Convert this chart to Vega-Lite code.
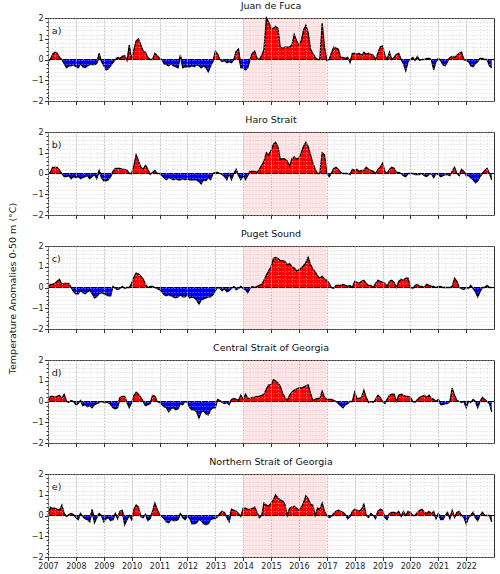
{
  "$schema": "https://vega.github.io/schema/vega-lite/v6.json",
  "background": "white",
  "padding": {"left": 6, "top": 0, "right": 6, "bottom": 4},
  "bounds": "flush",
  "spacing": 31,
  "config": {
    "font": "DejaVu Sans",
    "view": {"stroke": "#333333", "strokeWidth": 1},
    "title": {"fontSize": 9.5, "fontWeight": "normal", "color": "#111111", "offset": 4, "anchor": "middle"},
    "axis": {"labelFontSize": 8, "labelColor": "#222222", "tickColor": "#333333", "titleFontSize": 9.5, "titleFontWeight": "normal", "titleColor": "#222222", "domain": false}
  },
  "datasets": {
    "anom": [
      {"t":"2007-01","a":-0.1,"b":0,"c":0,"d":0,"e":0},
      {"t":"2007-02","a":0,"b":0.05,"c":0.15,"d":0.25,"e":0.4},
      {"t":"2007-03","a":0.25,"b":0.3,"c":0.15,"d":0.25,"e":0.35},
      {"t":"2007-04","a":0.35,"b":0.3,"c":0.2,"d":0.2,"e":0.35},
      {"t":"2007-05","a":0.3,"b":0.3,"c":0.3,"d":0.25,"e":0.3},
      {"t":"2007-06","a":0.1,"b":0.15,"c":0.4,"d":0.3,"e":0.25},
      {"t":"2007-07","a":0,"b":0,"c":0.15,"d":0.15,"e":0.5},
      {"t":"2007-08","a":-0.2,"b":-0.15,"c":0.2,"d":0.35,"e":0.1},
      {"t":"2007-09","a":-0.4,"b":-0.15,"c":0.2,"d":0,"e":-0.05},
      {"t":"2007-10","a":-0.3,"b":-0.1,"c":0.2,"d":-0.05,"e":0.05},
      {"t":"2007-11","a":-0.3,"b":-0.25,"c":0,"d":0.05,"e":0.1},
      {"t":"2007-12","a":-0.25,"b":-0.15,"c":-0.2,"d":0,"e":0.05},
      {"t":"2008-01","a":-0.35,"b":-0.2,"c":-0.3,"d":-0.15,"e":-0.1},
      {"t":"2008-02","a":-0.4,"b":-0.15,"c":-0.3,"d":-0.1,"e":-0.2},
      {"t":"2008-03","a":-0.2,"b":-0.25,"c":-0.15,"d":0.05,"e":0.1},
      {"t":"2008-04","a":-0.35,"b":-0.2,"c":-0.25,"d":-0.2,"e":-0.05},
      {"t":"2008-05","a":-0.4,"b":-0.15,"c":-0.3,"d":-0.15,"e":-0.15},
      {"t":"2008-06","a":-0.3,"b":-0.1,"c":-0.2,"d":-0.25,"e":-0.2},
      {"t":"2008-07","a":-0.25,"b":-0.25,"c":-0.15,"d":-0.2,"e":-0.3},
      {"t":"2008-08","a":-0.25,"b":-0.15,"c":-0.3,"d":-0.3,"e":0.3},
      {"t":"2008-09","a":-0.25,"b":-0.05,"c":-0.5,"d":-0.15,"e":-0.35},
      {"t":"2008-10","a":-0.2,"b":-0.25,"c":-0.45,"d":-0.1,"e":-0.1},
      {"t":"2008-11","a":0.3,"b":0.15,"c":-0.3,"d":-0.05,"e":0.1},
      {"t":"2008-12","a":-0.1,"b":-0.2,"c":-0.25,"d":0,"e":0},
      {"t":"2009-01","a":-0.3,"b":-0.35,"c":-0.3,"d":-0.05,"e":-0.3},
      {"t":"2009-02","a":-0.5,"b":-0.35,"c":-0.35,"d":-0.05,"e":-0.15},
      {"t":"2009-03","a":-0.45,"b":-0.3,"c":-0.4,"d":-0.05,"e":-0.1},
      {"t":"2009-04","a":-0.3,"b":-0.15,"c":-0.4,"d":-0.15,"e":-0.25},
      {"t":"2009-05","a":-0.15,"b":0.1,"c":0.05,"d":-0.3,"e":-0.2},
      {"t":"2009-06","a":0,"b":0.25,"c":-0.05,"d":-0.35,"e":0.1},
      {"t":"2009-07","a":0.1,"b":0.25,"c":-0.1,"d":-0.3,"e":-0.15},
      {"t":"2009-08","a":0.05,"b":0.25,"c":-0.05,"d":0.2,"e":0.2},
      {"t":"2009-09","a":0.15,"b":0.2,"c":0.05,"d":0.25,"e":0.25},
      {"t":"2009-10","a":0.2,"b":0.2,"c":-0.05,"d":0.25,"e":-0.45},
      {"t":"2009-11","a":-0.05,"b":0.15,"c":0,"d":-0.05,"e":-0.2},
      {"t":"2009-12","a":0.7,"b":0,"c":0,"d":-0.3,"e":0},
      {"t":"2010-01","a":0,"b":0,"c":0.2,"d":-0.05,"e":-0.2},
      {"t":"2010-02","a":0.5,"b":0.4,"c":0.5,"d":0.3,"e":0.3},
      {"t":"2010-03","a":0.9,"b":0.9,"c":0.7,"d":0.45,"e":0.5},
      {"t":"2010-04","a":1.0,"b":0.6,"c":0.65,"d":0.35,"e":0.4},
      {"t":"2010-05","a":0.7,"b":0.3,"c":0.55,"d":0.2,"e":-0.05},
      {"t":"2010-06","a":0.4,"b":0.2,"c":0.4,"d":0,"e":-0.1},
      {"t":"2010-07","a":0.35,"b":0.4,"c":0.15,"d":-0.2,"e":0.05},
      {"t":"2010-08","a":0.1,"b":0.2,"c":0,"d":-0.15,"e":-0.25},
      {"t":"2010-09","a":0,"b":-0.05,"c":0.05,"d":-0.1,"e":-0.15},
      {"t":"2010-10","a":0,"b":0.05,"c":0.05,"d":0.3,"e":0.2},
      {"t":"2010-11","a":0.3,"b":0.15,"c":0,"d":0.25,"e":0.6},
      {"t":"2010-12","a":0.2,"b":0,"c":-0.05,"d":0,"e":0.3},
      {"t":"2011-01","a":0.05,"b":0,"c":-0.1,"d":-0.05,"e":0.05},
      {"t":"2011-02","a":0,"b":-0.1,"c":-0.2,"d":-0.15,"e":-0.05},
      {"t":"2011-03","a":-0.2,"b":-0.2,"c":-0.35,"d":-0.25,"e":-0.15},
      {"t":"2011-04","a":-0.25,"b":-0.3,"c":-0.4,"d":-0.3,"e":-0.3},
      {"t":"2011-05","a":-0.3,"b":-0.2,"c":-0.35,"d":-0.5,"e":-0.35},
      {"t":"2011-06","a":-0.2,"b":-0.25,"c":-0.4,"d":-0.35,"e":-0.2},
      {"t":"2011-07","a":-0.3,"b":-0.3,"c":-0.45,"d":-0.3,"e":-0.25},
      {"t":"2011-08","a":-0.35,"b":-0.25,"c":-0.5,"d":-0.4,"e":-0.25},
      {"t":"2011-09","a":-0.4,"b":-0.3,"c":-0.45,"d":-0.35,"e":-0.2},
      {"t":"2011-10","a":0.2,"b":-0.3,"c":-0.35,"d":-0.1,"e":0.1},
      {"t":"2011-11","a":-0.4,"b":-0.25,"c":-0.45,"d":-0.15,"e":-0.1},
      {"t":"2011-12","a":-0.35,"b":-0.3,"c":-0.45,"d":0,"e":-0.2},
      {"t":"2012-01","a":-0.35,"b":-0.25,"c":-0.35,"d":-0.05,"e":-0.05},
      {"t":"2012-02","a":-0.35,"b":-0.3,"c":-0.5,"d":-0.3,"e":-0.15},
      {"t":"2012-03","a":-0.3,"b":-0.3,"c":-0.45,"d":-0.4,"e":-0.4},
      {"t":"2012-04","a":-0.35,"b":-0.3,"c":-0.5,"d":-0.4,"e":-0.4},
      {"t":"2012-05","a":-0.25,"b":-0.3,"c":-0.6,"d":-0.5,"e":-0.35},
      {"t":"2012-06","a":-0.3,"b":-0.4,"c":-0.8,"d":-0.8,"e":-0.2},
      {"t":"2012-07","a":-0.4,"b":-0.5,"c":-0.6,"d":-0.5,"e":-0.25},
      {"t":"2012-08","a":-0.3,"b":-0.3,"c":-0.55,"d":-0.45,"e":-0.4},
      {"t":"2012-09","a":-0.4,"b":-0.35,"c":-0.5,"d":-0.6,"e":-0.45},
      {"t":"2012-10","a":-0.6,"b":-0.2,"c":-0.45,"d":-0.65,"e":-0.4},
      {"t":"2012-11","a":-0.3,"b":-0.3,"c":-0.45,"d":-0.4,"e":-0.2},
      {"t":"2012-12","a":-0.1,"b":0,"c":-0.35,"d":-0.3,"e":-0.15},
      {"t":"2013-01","a":0.4,"b":0.05,"c":-0.15,"d":-0.3,"e":-0.15},
      {"t":"2013-02","a":0.25,"b":0.05,"c":0,"d":0.1,"e":-0.05},
      {"t":"2013-03","a":0,"b":0,"c":-0.05,"d":0.05,"e":0.1},
      {"t":"2013-04","a":-0.1,"b":-0.05,"c":-0.15,"d":-0.05,"e":0.2},
      {"t":"2013-05","a":-0.05,"b":-0.15,"c":-0.05,"d":-0.1,"e":0.15},
      {"t":"2013-06","a":-0.15,"b":-0.3,"c":-0.2,"d":-0.05,"e":-0.1},
      {"t":"2013-07","a":-0.1,"b":0,"c":-0.15,"d":-0.15,"e":-0.3},
      {"t":"2013-08","a":-0.15,"b":-0.3,"c":-0.05,"d":0.1,"e":0.3},
      {"t":"2013-09","a":0,"b":0,"c":0.05,"d":0.15,"e":0.25},
      {"t":"2013-10","a":0.4,"b":0.2,"c":-0.1,"d":0.1,"e":0.2},
      {"t":"2013-11","a":0.5,"b":-0.1,"c":-0.05,"d":0.05,"e":0.1},
      {"t":"2013-12","a":-0.4,"b":-0.3,"c":0.05,"d":0.3,"e":-0.05},
      {"t":"2014-01","a":-0.4,"b":-0.1,"c":-0.05,"d":0.1,"e":0.35},
      {"t":"2014-02","a":-0.5,"b":-0.3,"c":-0.1,"d":0.35,"e":0.35},
      {"t":"2014-03","a":-0.4,"b":-0.1,"c":-0.25,"d":0.15,"e":0.3},
      {"t":"2014-04","a":0,"b":0.1,"c":-0.05,"d":0.15,"e":0.3},
      {"t":"2014-05","a":0.3,"b":0.1,"c":0.05,"d":0.2,"e":0.35},
      {"t":"2014-06","a":0.4,"b":0.1,"c":0,"d":0.2,"e":0.4},
      {"t":"2014-07","a":0.05,"b":0.05,"c":0.05,"d":0.25,"e":0.15},
      {"t":"2014-08","a":0,"b":0.2,"c":0.1,"d":0.25,"e":-0.1},
      {"t":"2014-09","a":0.2,"b":0.4,"c":0.15,"d":0.3,"e":0},
      {"t":"2014-10","a":0.5,"b":0.6,"c":0.35,"d":0.35,"e":0.6},
      {"t":"2014-11","a":2.0,"b":1.0,"c":0.6,"d":0.6,"e":0.5},
      {"t":"2014-12","a":1.8,"b":0.9,"c":0.8,"d":0.8,"e":0.45},
      {"t":"2015-01","a":1.5,"b":1.1,"c":1.0,"d":0.8,"e":0.6},
      {"t":"2015-02","a":1.5,"b":1.4,"c":1.4,"d":1.05,"e":0.75},
      {"t":"2015-03","a":1.6,"b":1.5,"c":1.45,"d":1.0,"e":1.0},
      {"t":"2015-04","a":1.5,"b":1.3,"c":1.4,"d":0.9,"e":0.85},
      {"t":"2015-05","a":0.6,"b":0.7,"c":1.3,"d":0.75,"e":0.75},
      {"t":"2015-06","a":0.55,"b":0.7,"c":1.3,"d":0.4,"e":0.7},
      {"t":"2015-07","a":0.6,"b":0.7,"c":1.25,"d":0.2,"e":0.55},
      {"t":"2015-08","a":0.6,"b":0.6,"c":1.1,"d":0.05,"e":0},
      {"t":"2015-09","a":0.6,"b":0.35,"c":1.15,"d":0.3,"e":0.35},
      {"t":"2015-10","a":0.7,"b":0.7,"c":1.0,"d":0.45,"e":0.4},
      {"t":"2015-11","a":1.2,"b":0.8,"c":0.95,"d":0.55,"e":0.45},
      {"t":"2015-12","a":0.9,"b":0.7,"c":0.8,"d":0.6,"e":0.35},
      {"t":"2016-01","a":0.7,"b":0.75,"c":0.85,"d":0.65,"e":0.25},
      {"t":"2016-02","a":0.9,"b":1.0,"c":0.95,"d":0.65,"e":0.4},
      {"t":"2016-03","a":1.4,"b":1.3,"c":1.05,"d":0.7,"e":0.6},
      {"t":"2016-04","a":1.65,"b":1.5,"c":1.2,"d":0.75,"e":0.95},
      {"t":"2016-05","a":1.3,"b":1.3,"c":1.45,"d":0.8,"e":0.8},
      {"t":"2016-06","a":0.5,"b":0.9,"c":1.1,"d":0.4,"e":0.55},
      {"t":"2016-07","a":0.3,"b":0.5,"c":0.9,"d":0.05,"e":0.5},
      {"t":"2016-08","a":0.1,"b":0.2,"c":0.75,"d":0.1,"e":0},
      {"t":"2016-09","a":0,"b":0,"c":0.55,"d":0.15,"e":0.35},
      {"t":"2016-10","a":0,"b":0,"c":0.45,"d":0.15,"e":0.3},
      {"t":"2016-11","a":1.75,"b":1.0,"c":0.55,"d":0.5,"e":0.6},
      {"t":"2016-12","a":0.6,"b":0.9,"c":0.4,"d":0.2,"e":0.2},
      {"t":"2017-01","a":-0.05,"b":0,"c":0.35,"d":0.1,"e":0},
      {"t":"2017-02","a":0,"b":-0.15,"c":0.2,"d":0.1,"e":-0.1},
      {"t":"2017-03","a":0.3,"b":0,"c":0,"d":0.1,"e":-0.05},
      {"t":"2017-04","a":0.6,"b":0.25,"c":-0.05,"d":0.05,"e":0.1},
      {"t":"2017-05","a":0.55,"b":0.3,"c":0.1,"d":0,"e":0.2},
      {"t":"2017-06","a":0.5,"b":0.2,"c":0.1,"d":-0.1,"e":0.25},
      {"t":"2017-07","a":0.1,"b":0.05,"c":0.1,"d":-0.2,"e":0.2},
      {"t":"2017-08","a":0.1,"b":0,"c":0.15,"d":-0.3,"e":0.15},
      {"t":"2017-09","a":0.05,"b":0,"c":0.1,"d":-0.15,"e":0.05},
      {"t":"2017-10","a":0.1,"b":0,"c":0.05,"d":-0.1,"e":-0.15},
      {"t":"2017-11","a":-0.15,"b":-0.05,"c":0.1,"d":0,"e":-0.05},
      {"t":"2017-12","a":0.3,"b":0.2,"c":0,"d":0,"e":0.2},
      {"t":"2018-01","a":0.3,"b":0.15,"c":0.3,"d":0.45,"e":0.3},
      {"t":"2018-02","a":0.25,"b":0.2,"c":0.25,"d":0.15,"e":0.25},
      {"t":"2018-03","a":0.3,"b":0.1,"c":0.2,"d":0.15,"e":0.2},
      {"t":"2018-04","a":0.2,"b":0.15,"c":0.3,"d":0.2,"e":0.3},
      {"t":"2018-05","a":0.35,"b":0.15,"c":0.35,"d":0.55,"e":0.55},
      {"t":"2018-06","a":0.25,"b":0.3,"c":0.2,"d":0.2,"e":0},
      {"t":"2018-07","a":0.3,"b":0.2,"c":0.1,"d":-0.05,"e":-0.1},
      {"t":"2018-08","a":0.25,"b":0.15,"c":0.1,"d":0,"e":0.1},
      {"t":"2018-09","a":0.2,"b":0.1,"c":0,"d":-0.05,"e":0},
      {"t":"2018-10","a":0,"b":0,"c":0.2,"d":0.1,"e":-0.15},
      {"t":"2018-11","a":0.3,"b":0.2,"c":0.35,"d":0.3,"e":0.2},
      {"t":"2018-12","a":0.6,"b":0.3,"c":0.3,"d":0.2,"e":0.3},
      {"t":"2019-01","a":0.65,"b":0.5,"c":0.25,"d":0,"e":0.25},
      {"t":"2019-02","a":0.2,"b":0.1,"c":0.2,"d":-0.1,"e":-0.1},
      {"t":"2019-03","a":0,"b":0,"c":0.05,"d":0.1,"e":-0.2},
      {"t":"2019-04","a":0.35,"b":0.2,"c":0.3,"d":0.3,"e":0.1},
      {"t":"2019-05","a":0,"b":0.3,"c":0.35,"d":0.35,"e":0.15},
      {"t":"2019-06","a":0.1,"b":0.25,"c":0.25,"d":0.35,"e":0.15},
      {"t":"2019-07","a":0.25,"b":0.05,"c":0,"d":0,"e":0.1},
      {"t":"2019-08","a":0.3,"b":0.05,"c":0.3,"d":0.3,"e":0.2},
      {"t":"2019-09","a":0,"b":0,"c":0.4,"d":0.35,"e":-0.05},
      {"t":"2019-10","a":-0.2,"b":-0.1,"c":0.35,"d":0.3,"e":0.2},
      {"t":"2019-11","a":-0.55,"b":-0.15,"c":0.45,"d":0.25,"e":0},
      {"t":"2019-12","a":-0.1,"b":0,"c":0.45,"d":0.25,"e":0.2},
      {"t":"2020-01","a":0,"b":0,"c":0,"d":0.2,"e":0.15},
      {"t":"2020-02","a":0.1,"b":0,"c":-0.05,"d":0,"e":0},
      {"t":"2020-03","a":-0.05,"b":-0.05,"c":0.1,"d":-0.05,"e":0},
      {"t":"2020-04","a":0.15,"b":-0.05,"c":0.15,"d":0.1,"e":0.15},
      {"t":"2020-05","a":-0.05,"b":-0.05,"c":0.05,"d":0.2,"e":0.25},
      {"t":"2020-06","a":0,"b":0,"c":0.05,"d":0.25,"e":0.3},
      {"t":"2020-07","a":0,"b":-0.1,"c":0,"d":0.3,"e":0.15},
      {"t":"2020-08","a":0.05,"b":-0.15,"c":0.15,"d":0.2,"e":0.1},
      {"t":"2020-09","a":0.05,"b":-0.05,"c":0.1,"d":0.3,"e":0.2},
      {"t":"2020-10","a":0,"b":0,"c":0.05,"d":0.15,"e":0.1},
      {"t":"2020-11","a":-0.5,"b":-0.2,"c":0.05,"d":0.1,"e":0.2},
      {"t":"2020-12","a":-0.1,"b":0,"c":0,"d":0,"e":-0.15},
      {"t":"2021-01","a":0.05,"b":-0.05,"c":0.05,"d":0.1,"e":0.1},
      {"t":"2021-02","a":-0.05,"b":-0.15,"c":0.05,"d":-0.15,"e":-0.2},
      {"t":"2021-03","a":-0.25,"b":-0.1,"c":0,"d":-0.15,"e":-0.2},
      {"t":"2021-04","a":-0.3,"b":-0.05,"c":0,"d":-0.1,"e":0},
      {"t":"2021-05","a":-0.1,"b":-0.05,"c":0,"d":-0.1,"e":0.15},
      {"t":"2021-06","a":0.1,"b":-0.1,"c":0,"d":0,"e":-0.15},
      {"t":"2021-07","a":0.15,"b":0.1,"c":0.05,"d":0.65,"e":0.25},
      {"t":"2021-08","a":0.1,"b":0.3,"c":0.45,"d":0.3,"e":-0.1},
      {"t":"2021-09","a":0.2,"b":0,"c":0.3,"d":0.05,"e":0.15},
      {"t":"2021-10","a":0.3,"b":-0.1,"c":0,"d":0,"e":0.2},
      {"t":"2021-11","a":0.35,"b":0.2,"c":-0.05,"d":-0.05,"e":0},
      {"t":"2021-12","a":0,"b":0.1,"c":-0.1,"d":0,"e":-0.1},
      {"t":"2022-01","a":-0.05,"b":-0.1,"c":0,"d":-0.3,"e":-0.4},
      {"t":"2022-02","a":-0.1,"b":-0.1,"c":-0.05,"d":0,"e":-0.1},
      {"t":"2022-03","a":-0.3,"b":-0.2,"c":0.1,"d":-0.05,"e":0},
      {"t":"2022-04","a":-0.35,"b":-0.3,"c":-0.05,"d":0.1,"e":0.15},
      {"t":"2022-05","a":-0.2,"b":-0.45,"c":-0.2,"d":0,"e":-0.1},
      {"t":"2022-06","a":-0.1,"b":-0.35,"c":-0.45,"d":-0.3,"e":-0.25},
      {"t":"2022-07","a":0.05,"b":-0.15,"c":-0.2,"d":0,"e":0},
      {"t":"2022-08","a":0.05,"b":0,"c":0,"d":0.2,"e":0.15},
      {"t":"2022-09","a":0,"b":0.15,"c":0,"d":0.1,"e":0},
      {"t":"2022-10","a":0,"b":0.25,"c":0.1,"d":0,"e":0},
      {"t":"2022-11","a":-0.3,"b":0,"c":0,"d":-0.1,"e":0},
      {"t":"2022-12","a":-0.4,"b":-0.3,"c":0,"d":-0.5,"e":-0.3}
    ]
  },
  "vconcat": [
    {
      "title": "Juan de Fuca",
      "width": 446, "height": 83,
      "data": {"name": "anom"},
      "resolve": {"scale": {"y": "independent"}, "axis": {"x": "independent", "y": "independent"}},
      "layer": [
        {"data": {"values": [{"start": "2014-01-01", "end": "2017-01-01"}]},
         "mark": {"type": "rect", "color": "#ff0000", "opacity": 0.1},
         "encoding": {"x": {"field": "start", "type": "temporal", "scale": {"type": "utc", "nice": false, "domain": [{"year": 2007, "month": 1, "date": 1, "utc": true}, {"year": 2022, "month": 12, "date": 31, "utc": true}]}, "axis": null}, "x2": {"field": "end"}}},
        {"mark": {"type": "area", "color": "#ff0000"},
         "encoding": {"x": {"field": "t", "type": "temporal", "axis": {"orient": "top", "tickCount": {"interval": "month", "step": 3}, "labels": false, "ticks": false, "grid": true, "gridDash": [1, 2], "gridColor": "#d4d4d4", "gridWidth": 0.6, "title": null, "zindex": 1}},
           "y": {"field": "a", "type": "quantitative", "scale": {"domain": [0, 2], "range": [41.5, 0], "clamp": true, "nice": false, "zero": false}, "axis": null},
           "y2": {"datum": 0}}},
        {"mark": {"type": "area", "color": "#0000ff"},
         "encoding": {"x": {"field": "t", "type": "temporal", "axis": null},
           "y": {"field": "a", "type": "quantitative", "scale": {"domain": [-2, 0], "range": [83, 41.5], "clamp": true, "nice": false, "zero": false}, "axis": null},
           "y2": {"datum": 0}}},
        {"data": {"values": [{"zero": 0}]},
         "mark": {"type": "rule", "color": "black", "strokeWidth": 1},
         "encoding": {"y": {"field": "zero", "type": "quantitative", "scale": {"domain": [-2, 2], "nice": false}, "axis": {"orient": "left", "values": [-2, -1.8, -1.6, -1.4, -1.2, -1, -0.8, -0.6, -0.4, -0.2, 0, 0.2, 0.4, 0.6, 0.8, 1, 1.2, 1.4, 1.6, 1.8, 2], "labels": false, "tickSize": 2, "grid": true, "gridDash": [1, 2], "gridColor": "#c4c4c4", "gridWidth": 0.7, "title": null, "zindex": 1}}}},
        {"mark": {"type": "line", "color": "black", "strokeWidth": 1.3},
         "encoding": {"x": {"field": "t", "type": "temporal", "axis": {"orient": "bottom", "tickCount": {"interval": "year", "step": 1}, "format": "%Y", "labels": false, "grid": true, "gridDash": [1.5, 1.5], "gridColor": "#b4b4b4", "gridWidth": 0.8, "tickSize": 3.5, "title": null, "zindex": 1}},
           "y": {"field": "a", "type": "quantitative", "scale": {"domain": [-2, 2], "nice": false}, "axis": {"orient": "left", "values": [-2, -1, 0, 1, 2], "grid": false, "tickSize": 3.5, "labelPadding": 1.5, "title": "Temperature Anomalies 0-50 m (°C)", "titlePadding": 14, "titleY": 270, "titleAlign": "center", "titleBaseline": "bottom", "zindex": 1}}}},
        {"data": {"values": [{"label": "a)"}]},
         "mark": {"type": "text", "align": "left", "baseline": "middle", "fontSize": 9.5, "color": "#111111"},
         "encoding": {"text": {"field": "label"}, "x": {"datum": {"year": 2007, "month": 2, "date": 20, "utc": true}, "type": "temporal", "axis": null}, "y": {"datum": 1.37, "type": "quantitative", "scale": {"domain": [-2, 2], "nice": false}, "axis": null}}}
      ]
    },
    {
      "title": "Haro Strait",
      "width": 446, "height": 83,
      "data": {"name": "anom"},
      "resolve": {"scale": {"y": "independent"}, "axis": {"x": "independent", "y": "independent"}},
      "layer": [
        {"data": {"values": [{"start": "2014-01-01", "end": "2017-01-01"}]},
         "mark": {"type": "rect", "color": "#ff0000", "opacity": 0.1},
         "encoding": {"x": {"field": "start", "type": "temporal", "scale": {"type": "utc", "nice": false, "domain": [{"year": 2007, "month": 1, "date": 1, "utc": true}, {"year": 2022, "month": 12, "date": 31, "utc": true}]}, "axis": null}, "x2": {"field": "end"}}},
        {"mark": {"type": "area", "color": "#ff0000"},
         "encoding": {"x": {"field": "t", "type": "temporal", "axis": {"orient": "top", "tickCount": {"interval": "month", "step": 3}, "labels": false, "ticks": false, "grid": true, "gridDash": [1, 2], "gridColor": "#d4d4d4", "gridWidth": 0.6, "title": null, "zindex": 1}},
           "y": {"field": "b", "type": "quantitative", "scale": {"domain": [0, 2], "range": [41.5, 0], "clamp": true, "nice": false, "zero": false}, "axis": null},
           "y2": {"datum": 0}}},
        {"mark": {"type": "area", "color": "#0000ff"},
         "encoding": {"x": {"field": "t", "type": "temporal", "axis": null},
           "y": {"field": "b", "type": "quantitative", "scale": {"domain": [-2, 0], "range": [83, 41.5], "clamp": true, "nice": false, "zero": false}, "axis": null},
           "y2": {"datum": 0}}},
        {"data": {"values": [{"zero": 0}]},
         "mark": {"type": "rule", "color": "black", "strokeWidth": 1},
         "encoding": {"y": {"field": "zero", "type": "quantitative", "scale": {"domain": [-2, 2], "nice": false}, "axis": {"orient": "left", "values": [-2, -1.8, -1.6, -1.4, -1.2, -1, -0.8, -0.6, -0.4, -0.2, 0, 0.2, 0.4, 0.6, 0.8, 1, 1.2, 1.4, 1.6, 1.8, 2], "labels": false, "tickSize": 2, "grid": true, "gridDash": [1, 2], "gridColor": "#c4c4c4", "gridWidth": 0.7, "title": null, "zindex": 1}}}},
        {"mark": {"type": "line", "color": "black", "strokeWidth": 1.3},
         "encoding": {"x": {"field": "t", "type": "temporal", "axis": {"orient": "bottom", "tickCount": {"interval": "year", "step": 1}, "format": "%Y", "labels": false, "grid": true, "gridDash": [1.5, 1.5], "gridColor": "#b4b4b4", "gridWidth": 0.8, "tickSize": 3.5, "title": null, "zindex": 1}},
           "y": {"field": "b", "type": "quantitative", "scale": {"domain": [-2, 2], "nice": false}, "axis": {"orient": "left", "values": [-2, -1, 0, 1, 2], "grid": false, "tickSize": 3.5, "labelPadding": 1.5, "title": null, "zindex": 1}}}},
        {"data": {"values": [{"label": "b)"}]},
         "mark": {"type": "text", "align": "left", "baseline": "middle", "fontSize": 9.5, "color": "#111111"},
         "encoding": {"text": {"field": "label"}, "x": {"datum": {"year": 2007, "month": 2, "date": 20, "utc": true}, "type": "temporal", "axis": null}, "y": {"datum": 1.37, "type": "quantitative", "scale": {"domain": [-2, 2], "nice": false}, "axis": null}}}
      ]
    },
    {
      "title": "Puget Sound",
      "width": 446, "height": 83,
      "data": {"name": "anom"},
      "resolve": {"scale": {"y": "independent"}, "axis": {"x": "independent", "y": "independent"}},
      "layer": [
        {"data": {"values": [{"start": "2014-01-01", "end": "2017-01-01"}]},
         "mark": {"type": "rect", "color": "#ff0000", "opacity": 0.1},
         "encoding": {"x": {"field": "start", "type": "temporal", "scale": {"type": "utc", "nice": false, "domain": [{"year": 2007, "month": 1, "date": 1, "utc": true}, {"year": 2022, "month": 12, "date": 31, "utc": true}]}, "axis": null}, "x2": {"field": "end"}}},
        {"mark": {"type": "area", "color": "#ff0000"},
         "encoding": {"x": {"field": "t", "type": "temporal", "axis": {"orient": "top", "tickCount": {"interval": "month", "step": 3}, "labels": false, "ticks": false, "grid": true, "gridDash": [1, 2], "gridColor": "#d4d4d4", "gridWidth": 0.6, "title": null, "zindex": 1}},
           "y": {"field": "c", "type": "quantitative", "scale": {"domain": [0, 2], "range": [41.5, 0], "clamp": true, "nice": false, "zero": false}, "axis": null},
           "y2": {"datum": 0}}},
        {"mark": {"type": "area", "color": "#0000ff"},
         "encoding": {"x": {"field": "t", "type": "temporal", "axis": null},
           "y": {"field": "c", "type": "quantitative", "scale": {"domain": [-2, 0], "range": [83, 41.5], "clamp": true, "nice": false, "zero": false}, "axis": null},
           "y2": {"datum": 0}}},
        {"data": {"values": [{"zero": 0}]},
         "mark": {"type": "rule", "color": "black", "strokeWidth": 1},
         "encoding": {"y": {"field": "zero", "type": "quantitative", "scale": {"domain": [-2, 2], "nice": false}, "axis": {"orient": "left", "values": [-2, -1.8, -1.6, -1.4, -1.2, -1, -0.8, -0.6, -0.4, -0.2, 0, 0.2, 0.4, 0.6, 0.8, 1, 1.2, 1.4, 1.6, 1.8, 2], "labels": false, "tickSize": 2, "grid": true, "gridDash": [1, 2], "gridColor": "#c4c4c4", "gridWidth": 0.7, "title": null, "zindex": 1}}}},
        {"mark": {"type": "line", "color": "black", "strokeWidth": 1.3},
         "encoding": {"x": {"field": "t", "type": "temporal", "axis": {"orient": "bottom", "tickCount": {"interval": "year", "step": 1}, "format": "%Y", "labels": false, "grid": true, "gridDash": [1.5, 1.5], "gridColor": "#b4b4b4", "gridWidth": 0.8, "tickSize": 3.5, "title": null, "zindex": 1}},
           "y": {"field": "c", "type": "quantitative", "scale": {"domain": [-2, 2], "nice": false}, "axis": {"orient": "left", "values": [-2, -1, 0, 1, 2], "grid": false, "tickSize": 3.5, "labelPadding": 1.5, "title": null, "zindex": 1}}}},
        {"data": {"values": [{"label": "c)"}]},
         "mark": {"type": "text", "align": "left", "baseline": "middle", "fontSize": 9.5, "color": "#111111"},
         "encoding": {"text": {"field": "label"}, "x": {"datum": {"year": 2007, "month": 2, "date": 20, "utc": true}, "type": "temporal", "axis": null}, "y": {"datum": 1.37, "type": "quantitative", "scale": {"domain": [-2, 2], "nice": false}, "axis": null}}}
      ]
    },
    {
      "title": "Central Strait of Georgia",
      "width": 446, "height": 83,
      "data": {"name": "anom"},
      "resolve": {"scale": {"y": "independent"}, "axis": {"x": "independent", "y": "independent"}},
      "layer": [
        {"data": {"values": [{"start": "2014-01-01", "end": "2017-01-01"}]},
         "mark": {"type": "rect", "color": "#ff0000", "opacity": 0.1},
         "encoding": {"x": {"field": "start", "type": "temporal", "scale": {"type": "utc", "nice": false, "domain": [{"year": 2007, "month": 1, "date": 1, "utc": true}, {"year": 2022, "month": 12, "date": 31, "utc": true}]}, "axis": null}, "x2": {"field": "end"}}},
        {"mark": {"type": "area", "color": "#ff0000"},
         "encoding": {"x": {"field": "t", "type": "temporal", "axis": {"orient": "top", "tickCount": {"interval": "month", "step": 3}, "labels": false, "ticks": false, "grid": true, "gridDash": [1, 2], "gridColor": "#d4d4d4", "gridWidth": 0.6, "title": null, "zindex": 1}},
           "y": {"field": "d", "type": "quantitative", "scale": {"domain": [0, 2], "range": [41.5, 0], "clamp": true, "nice": false, "zero": false}, "axis": null},
           "y2": {"datum": 0}}},
        {"mark": {"type": "area", "color": "#0000ff"},
         "encoding": {"x": {"field": "t", "type": "temporal", "axis": null},
           "y": {"field": "d", "type": "quantitative", "scale": {"domain": [-2, 0], "range": [83, 41.5], "clamp": true, "nice": false, "zero": false}, "axis": null},
           "y2": {"datum": 0}}},
        {"data": {"values": [{"zero": 0}]},
         "mark": {"type": "rule", "color": "black", "strokeWidth": 1},
         "encoding": {"y": {"field": "zero", "type": "quantitative", "scale": {"domain": [-2, 2], "nice": false}, "axis": {"orient": "left", "values": [-2, -1.8, -1.6, -1.4, -1.2, -1, -0.8, -0.6, -0.4, -0.2, 0, 0.2, 0.4, 0.6, 0.8, 1, 1.2, 1.4, 1.6, 1.8, 2], "labels": false, "tickSize": 2, "grid": true, "gridDash": [1, 2], "gridColor": "#c4c4c4", "gridWidth": 0.7, "title": null, "zindex": 1}}}},
        {"mark": {"type": "line", "color": "black", "strokeWidth": 1.3},
         "encoding": {"x": {"field": "t", "type": "temporal", "axis": {"orient": "bottom", "tickCount": {"interval": "year", "step": 1}, "format": "%Y", "labels": false, "grid": true, "gridDash": [1.5, 1.5], "gridColor": "#b4b4b4", "gridWidth": 0.8, "tickSize": 3.5, "title": null, "zindex": 1}},
           "y": {"field": "d", "type": "quantitative", "scale": {"domain": [-2, 2], "nice": false}, "axis": {"orient": "left", "values": [-2, -1, 0, 1, 2], "grid": false, "tickSize": 3.5, "labelPadding": 1.5, "title": null, "zindex": 1}}}},
        {"data": {"values": [{"label": "d)"}]},
         "mark": {"type": "text", "align": "left", "baseline": "middle", "fontSize": 9.5, "color": "#111111"},
         "encoding": {"text": {"field": "label"}, "x": {"datum": {"year": 2007, "month": 2, "date": 20, "utc": true}, "type": "temporal", "axis": null}, "y": {"datum": 1.37, "type": "quantitative", "scale": {"domain": [-2, 2], "nice": false}, "axis": null}}}
      ]
    },
    {
      "title": "Northern Strait of Georgia",
      "width": 446, "height": 83,
      "data": {"name": "anom"},
      "resolve": {"scale": {"y": "independent"}, "axis": {"x": "independent", "y": "independent"}},
      "layer": [
        {"data": {"values": [{"start": "2014-01-01", "end": "2017-01-01"}]},
         "mark": {"type": "rect", "color": "#ff0000", "opacity": 0.1},
         "encoding": {"x": {"field": "start", "type": "temporal", "scale": {"type": "utc", "nice": false, "domain": [{"year": 2007, "month": 1, "date": 1, "utc": true}, {"year": 2022, "month": 12, "date": 31, "utc": true}]}, "axis": null}, "x2": {"field": "end"}}},
        {"mark": {"type": "area", "color": "#ff0000"},
         "encoding": {"x": {"field": "t", "type": "temporal", "axis": {"orient": "top", "tickCount": {"interval": "month", "step": 3}, "labels": false, "ticks": false, "grid": true, "gridDash": [1, 2], "gridColor": "#d4d4d4", "gridWidth": 0.6, "title": null, "zindex": 1}},
           "y": {"field": "e", "type": "quantitative", "scale": {"domain": [0, 2], "range": [41.5, 0], "clamp": true, "nice": false, "zero": false}, "axis": null},
           "y2": {"datum": 0}}},
        {"mark": {"type": "area", "color": "#0000ff"},
         "encoding": {"x": {"field": "t", "type": "temporal", "axis": null},
           "y": {"field": "e", "type": "quantitative", "scale": {"domain": [-2, 0], "range": [83, 41.5], "clamp": true, "nice": false, "zero": false}, "axis": null},
           "y2": {"datum": 0}}},
        {"data": {"values": [{"zero": 0}]},
         "mark": {"type": "rule", "color": "black", "strokeWidth": 1},
         "encoding": {"y": {"field": "zero", "type": "quantitative", "scale": {"domain": [-2, 2], "nice": false}, "axis": {"orient": "left", "values": [-2, -1.8, -1.6, -1.4, -1.2, -1, -0.8, -0.6, -0.4, -0.2, 0, 0.2, 0.4, 0.6, 0.8, 1, 1.2, 1.4, 1.6, 1.8, 2], "labels": false, "tickSize": 2, "grid": true, "gridDash": [1, 2], "gridColor": "#c4c4c4", "gridWidth": 0.7, "title": null, "zindex": 1}}}},
        {"mark": {"type": "line", "color": "black", "strokeWidth": 1.3},
         "encoding": {"x": {"field": "t", "type": "temporal", "axis": {"orient": "bottom", "tickCount": {"interval": "year", "step": 1}, "format": "%Y", "labels": true, "labelFlush": false, "labelOverlap": false, "grid": true, "gridDash": [1.5, 1.5], "gridColor": "#b4b4b4", "gridWidth": 0.8, "tickSize": 3.5, "labelPadding": 2, "title": null, "zindex": 1}},
           "y": {"field": "e", "type": "quantitative", "scale": {"domain": [-2, 2], "nice": false}, "axis": {"orient": "left", "values": [-2, -1, 0, 1, 2], "grid": false, "tickSize": 3.5, "labelPadding": 1.5, "title": null, "zindex": 1}}}},
        {"data": {"values": [{"label": "e)"}]},
         "mark": {"type": "text", "align": "left", "baseline": "middle", "fontSize": 9.5, "color": "#111111"},
         "encoding": {"text": {"field": "label"}, "x": {"datum": {"year": 2007, "month": 2, "date": 20, "utc": true}, "type": "temporal", "axis": null}, "y": {"datum": 1.37, "type": "quantitative", "scale": {"domain": [-2, 2], "nice": false}, "axis": null}}}
      ]
    }
  ]
}
